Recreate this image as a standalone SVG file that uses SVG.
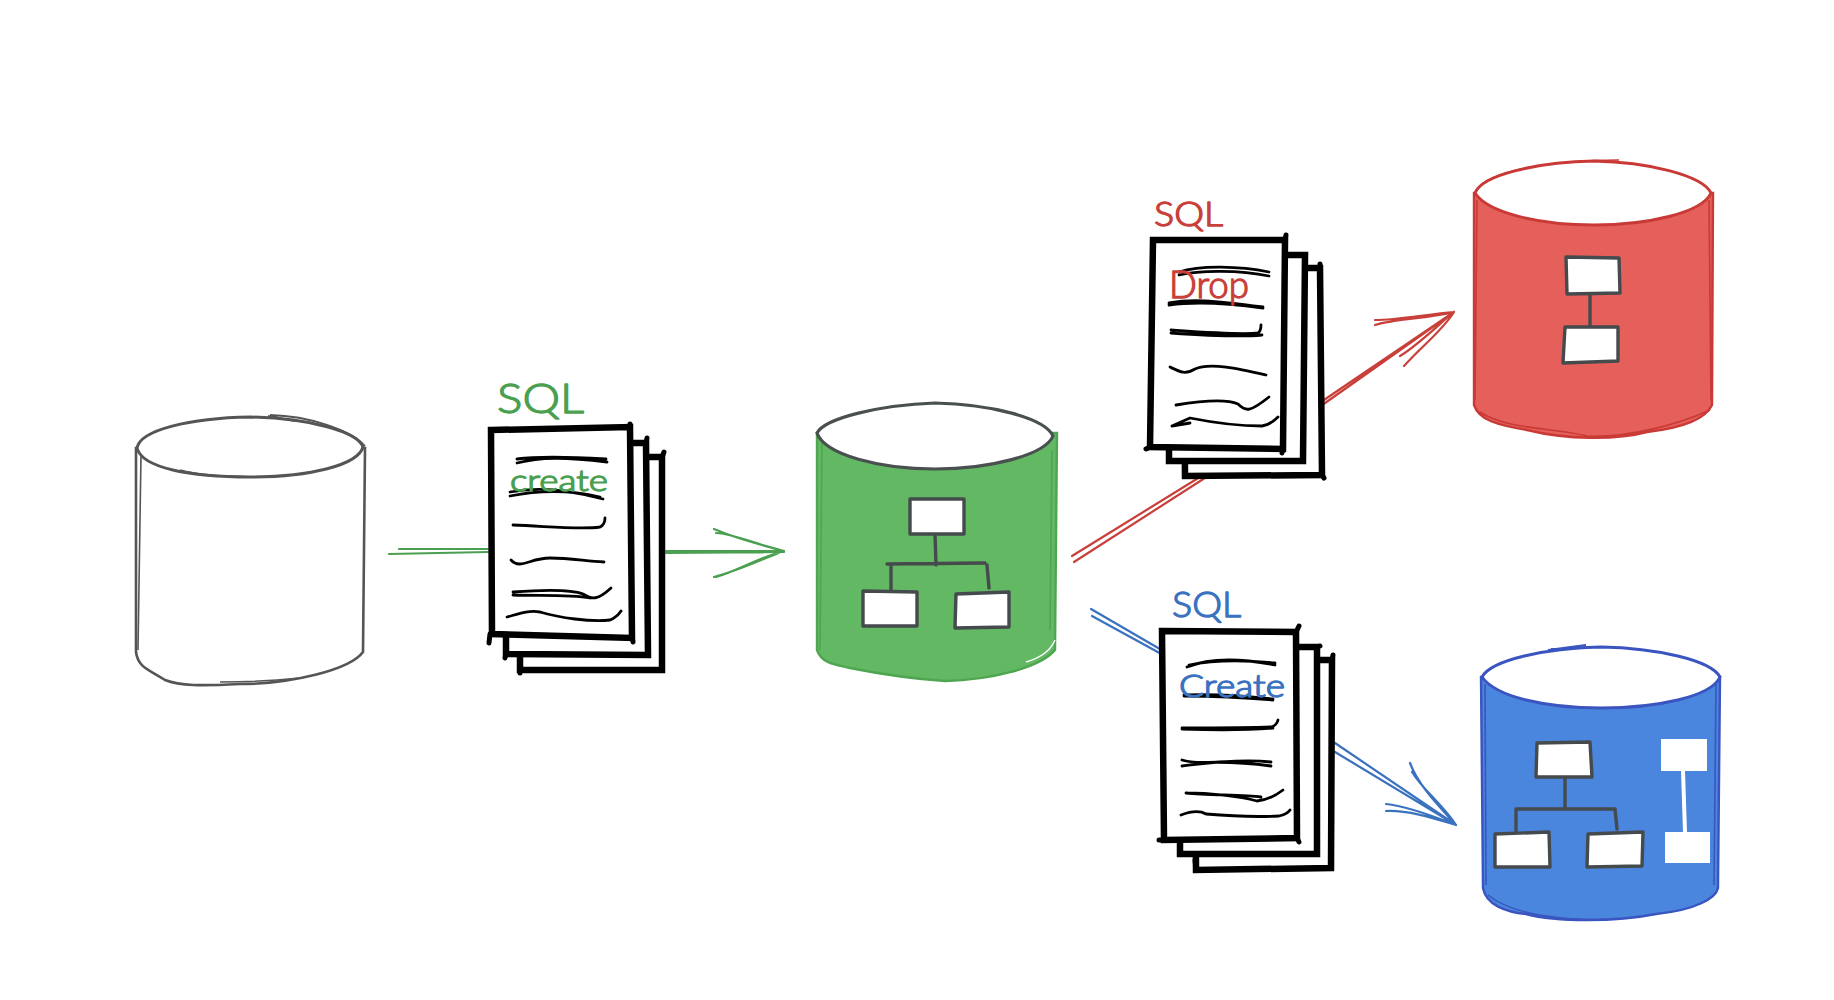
<svg xmlns="http://www.w3.org/2000/svg" width="1834" height="1000" viewBox="0 0 1834 1000">
<style>
.sheet{fill:#fff;stroke:#000;stroke-width:6.5;stroke-linecap:round}
.over{fill:none;stroke:#000;stroke-width:5;stroke-linecap:round}
.ink{fill:none;stroke:#000;stroke-width:2.8;stroke-linecap:round;stroke-linejoin:round}
.box{fill:#fff;stroke:#454a4d;stroke-width:3.4;stroke-linejoin:round}
.wire{fill:none;stroke:#454a4d;stroke-width:3.4;stroke-linecap:round}
.edge{fill:none;stroke-width:2.2;stroke-linecap:round;stroke-linejoin:round}
.hand{font-family:"Lato","Noto Sans",sans-serif;font-weight:300;stroke-width:1.3;stroke-linejoin:round}
.green{color:#4b9f50}.red{color:#c93f3a}.blue{color:#3a72bf}
.green,.red,.blue{fill:currentColor;stroke:currentColor}
.edge.green,.edge.red,.edge.blue{fill:none}
</style>
<rect width="1834" height="1000" fill="#fff"/>
<g id="connectors">
<path class="edge green" d="M389,554L488,552M399,549L488,549M666,551L784,551M666,553L784,552M714,529C735,538 765,546 784,551C760,546 732,533 716,533M714,577C735,572 765,558 784,551C760,557 735,572 716,577"/>
<path class="edge red" d="M1072,556L1208,472M1074,562L1208,476M1318,408L1454,312M1321,402L1454,312M1454,312C1428,314 1398,320 1375,320M1454,312C1428,319 1398,318 1375,325M1454,312C1443,330 1423,345 1404,366M1454,312C1438,325 1418,345 1400,356"/>
<path class="edge blue" d="M1091,609L1165,652M1092,616L1165,656M1335,743L1456,825M1335,752L1456,825M1410,763C1418,785 1438,805 1456,825M1412,772C1423,790 1443,805 1456,825M1386,804C1408,806 1438,818 1456,825M1386,811C1408,810 1433,818 1456,825"/>
</g>

<g id="db-source">
<path d="M136,448L136,652C138,668 150,670 165,680C180,686 200,686 240,684C290,684 350,670 363,652L365,448Z" fill="#fff" stroke="#555" stroke-width="2.6"/>
<path d="M141,455L138,650" fill="none" stroke="#555" stroke-width="1.6"/>
<path d="M137,448C140,430 190,418 250,417C310,418 358,432 363,447C358,465 310,477 250,477C190,477 142,468 137,448Z" fill="#fff" stroke="#555" stroke-width="3"/>
<path d="M268,416L295,421M270,415C310,416 350,430 365,446" fill="none" stroke="#555" stroke-width="1.8"/>
<path d="M180,470C210,478 280,480 320,470" fill="none" stroke="#555" stroke-width="1.6"/>
<path d="M220,682C250,682 280,680 300,678" fill="none" stroke="#555" stroke-width="1.4"/>
</g>

<g id="doc-create">
<path class="sheet" d="M520,457L662,457L662,670L520,670Z"/>
<path class="sheet" d="M506,443L646,443L648,655L506,654Z"/>
<path class="sheet" d="M491,430L630,427L632,638L492,634Z"/>
<path class="over" d="M520,670L520,673M662,457L664,452M646,443L647,438M630,427L630,424M632,638L633,642M490,634L489,643M506,654L505,658"/>
<path class="ink" d="M517,463C540,457 565,457 607,462M517,459C540,456 570,457 606,459"/>
<path class="ink" d="M510,492C540,486 570,490 603,499M510,496C540,490 570,490 600,497"/>
<path class="ink" d="M513,525C545,526 580,530 600,527C604,525 605,522 605,518"/>
<path class="ink" d="M511,560C520,570 530,558 550,558C570,558 585,561 604,562"/>
<path class="ink" d="M513,592C540,590 570,589 583,594C592,600 598,600 611,588M513,595C540,596 570,594 590,598"/>
<path class="ink" d="M507,617C518,614 528,610 540,612C560,618 590,622 610,620C615,618 619,614 621,611"/>
<text class="hand green" x="497" y="413" font-size="41" textLength="87" lengthAdjust="spacingAndGlyphs">SQL</text>
<text class="hand green" x="510" y="491" font-size="30" textLength="98" lengthAdjust="spacingAndGlyphs">create</text>
</g>

<g id="db-green">
<path d="M817,433L817,650C822,665 840,665 850,668C890,676 930,680 945,681C990,680 1040,668 1055,650L1057,433Z" fill="#63b863" stroke="#4ea650" stroke-width="2.4"/>
<path d="M822,440L820,650M1052,450L1050,630" fill="none" stroke="#4ea650" stroke-width="1.6"/>
<path d="M1026,662C1040,658 1050,652 1055,640" fill="none" stroke="#fff" stroke-width="1.4"/>
<path d="M817,433C825,418 880,405 935,403C990,404 1045,418 1053,436C1045,455 990,469 935,469C880,469 825,455 817,433Z" fill="#fff" stroke="#4a4f4f" stroke-width="3.2"/>
<path class="wire" d="M935,534L936,565M887,564L985,563M891,565L891,590M987,565L989,588"/>
<path class="box" d="M910,499L964,499L964,534L910,534Z"/>
<path class="box" d="M863,591L917,592L917,626L863,626Z"/>
<path class="box" d="M956,594L1009,592L1009,627L955,628Z"/>
</g>

<g id="doc-drop">
<path class="sheet" d="M1183,268L1320,268L1322,475L1185,476Z"/>
<path class="sheet" d="M1169,255L1305,255L1303,461L1169,461Z"/>
<path class="sheet" d="M1153,240L1285,240L1283,449L1150,447Z"/>
<path class="over" d="M1320,268L1320,264M1285,240L1286,235M1322,475L1324,478M1283,449L1282,453M1150,447L1146,449"/>
<path class="ink" d="M1179,272C1200,265 1240,266 1269,272M1179,275C1200,270 1240,270 1269,276"/>
<path class="ink" d="M1169,303C1190,299 1210,300 1263,307M1169,305C1190,302 1220,302 1263,308"/>
<path class="ink" d="M1171,330C1200,332 1240,335 1258,333C1261,331 1261,328 1261,325M1171,333C1200,335 1240,337 1262,335"/>
<path class="ink" d="M1170,367C1180,372 1185,375 1195,369C1210,362 1240,369 1266,375"/>
<path class="ink" d="M1176,405C1200,401 1225,398 1238,404C1246,412 1250,412 1269,397"/>
<path class="ink" d="M1172,426L1190,418C1210,422 1240,426 1262,426C1270,425 1275,420 1278,417M1172,426L1190,423"/>
<text class="hand red" x="1154" y="226" font-size="33" textLength="69" lengthAdjust="spacingAndGlyphs">SQL</text>
<text class="hand red" x="1169" y="298" font-size="37" textLength="80" lengthAdjust="spacingAndGlyphs">Drop</text>
</g>

<g id="db-red" transform="translate(-3,0)">
<path d="M1477,193L1477,405C1482,420 1500,425 1530,430C1570,440 1620,440 1650,432C1685,428 1708,420 1715,405L1716,193Z" fill="#e55f5b" stroke="#c93a36" stroke-width="2.4"/>
<path d="M1480,200L1478,400M1712,200L1714,400M1483,412C1510,430 1560,428 1590,436C1630,438 1680,425 1713,410" fill="none" stroke="#c93a36" stroke-width="1.6"/>
<path d="M1478,193C1485,175 1540,162 1597,161C1650,162 1705,175 1714,193C1705,213 1650,225 1597,225C1540,225 1490,212 1478,193Z" fill="#fff" stroke="#c93a36" stroke-width="3"/>
<path d="M1480,190C1490,170 1560,160 1622,160" fill="none" stroke="#c93a36" stroke-width="1.6"/>
<path class="wire" d="M1593,294L1593,326"/>
<path class="box" d="M1569,257L1622,258L1623,293L1570,294Z"/>
<path class="box" d="M1568,327L1621,327L1621,361L1566,363Z"/>
</g>

<g id="doc-create-blue" transform="translate(-1,0)">
<path class="sheet" d="M1196,660L1333,660L1332,868L1197,870Z"/>
<path class="sheet" d="M1181,647L1318,647L1318,854L1181,854Z"/>
<path class="sheet" d="M1163,631L1297,632L1298,838L1165,840Z"/>
<path class="over" d="M1297,632L1300,626M1318,647L1321,646M1333,660L1334,655M1298,838L1300,842M1165,840L1160,840M1197,870L1196,860"/>
<path class="ink" d="M1188,667C1210,658 1240,658 1276,665M1190,665C1215,660 1245,660 1276,663"/>
<path class="ink" d="M1185,695C1210,694 1240,695 1274,699M1185,696C1210,696 1240,697 1274,700"/>
<path class="ink" d="M1183,728C1210,728 1250,728 1272,727C1276,726 1278,724 1279,720M1183,729C1210,730 1250,730 1274,728"/>
<path class="ink" d="M1183,760C1200,766 1215,758 1272,766M1183,766C1200,764 1240,758 1272,762"/>
<path class="ink" d="M1187,793C1210,793 1240,796 1258,801C1268,800 1275,797 1284,790M1187,793C1210,795 1245,795 1262,797"/>
<path class="ink" d="M1182,815C1190,812 1200,810 1207,814C1230,816 1260,817 1280,816C1285,815 1289,813 1291,810"/>
<text class="hand blue" x="1173" y="617" font-size="35" textLength="69" lengthAdjust="spacingAndGlyphs">SQL</text>
<text class="hand blue" x="1180" y="697" font-size="31" textLength="106" lengthAdjust="spacingAndGlyphs">Create</text>
</g>

<g id="db-blue" transform="translate(-4,0)">
<path d="M1485,677L1487,888C1490,905 1510,912 1530,914C1560,922 1620,922 1660,914C1700,910 1720,898 1722,888L1724,677Z" fill="#4a86dd" stroke="#3a55c0" stroke-width="2.4"/>
<path d="M1489,684L1490,885M1720,684L1718,885M1492,895C1520,918 1580,920 1610,920" fill="none" stroke="#3a55c0" stroke-width="1.6"/>
<path d="M1486,677C1495,660 1550,648 1605,647C1660,648 1715,660 1724,677C1715,697 1660,708 1605,708C1550,708 1500,697 1486,677Z" fill="#fff" stroke="#3a55c0" stroke-width="3"/>
<path d="M1552,650L1590,645M1555,649L1590,648" fill="none" stroke="#3a55c0" stroke-width="1.8"/>
<path class="wire" d="M1569,777L1569,809M1520,809L1619,809M1520,809L1520,832M1619,809L1621,829"/>
<path class="box" d="M1541,743L1594,742L1596,777L1540,777Z"/>
<path class="box" d="M1499,834L1553,832L1554,867L1499,867Z"/>
<path class="box" d="M1592,834L1647,832L1646,866L1591,867Z"/>
<path d="M1687,771L1689,832" fill="none" stroke="#fff" stroke-width="4"/>
<rect x="1665" y="739" width="46" height="32" fill="#fff"/>
<rect x="1669" y="832" width="45" height="31" fill="#fff"/>
</g>
</svg>
